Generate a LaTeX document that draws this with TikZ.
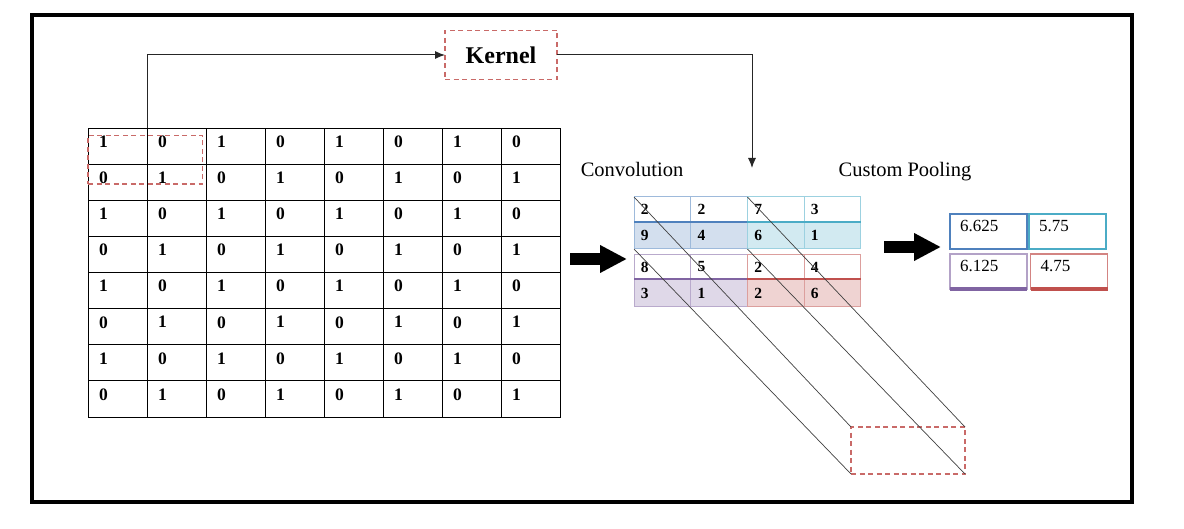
\documentclass[tikz,border=0pt]{standalone}
\usepackage{fontspec}
\setmainfont{Liberation Serif}
\usetikzlibrary{arrows.meta,positioning,calc}

\definecolor{kred}{HTML}{C0504D}
\definecolor{qblue}{HTML}{4F81BD}
\definecolor{qcyan}{HTML}{4BACC6}
\definecolor{qpurple}{HTML}{8064A2}
\definecolor{qred}{HTML}{C0504D}

\begin{document}
\begin{tikzpicture}[x=1pt,y=-1pt,
		cell/.style={
			draw, line width=0.9pt, anchor=north west, outer sep=0pt, inner sep=0pt,
			minimum width=59pt, minimum height=36.125pt, text width=37pt, align=left,
			text depth=9pt, font=\bfseries\fontsize{17.5}{17.5}\selectfont
		},
		dashbox/.style={
			draw=kred!85, line width=1.4pt, dash pattern=on 5pt off 3.5pt, outer sep=0pt
		},
		kernel/.style={
			dashbox, minimum width=112pt, minimum height=49pt,
			font=\bfseries\fontsize{24}{24}\selectfont
		},
		convcell/.style={
			anchor=north west, outer sep=0pt, inner sep=0pt, line width=1pt,
			minimum width=56.7pt, text width=43pt, align=left,
			font=\bfseries\fontsize{15.5}{15.5}\selectfont
		},
		convtop/.style={convcell, minimum height=25pt},
		convbot/.style={convcell, minimum height=27pt},
		poolbox/.style={
			draw, line width=1.2pt, anchor=north west, outer sep=0pt, inner sep=0pt,
			minimum width=77pt, minimum height=35pt, text width=57pt, align=left,
			text depth=11pt, font=\fontsize{17}{17}\selectfont
		},
		title/.style={anchor=base, inner sep=0pt, font=\fontsize{20.5}{20.5}\selectfont},
		conn/.style={line width=1pt, black!85},
		proj/.style={line width=0.7pt, black!75},
		bigarrow/.style={line width=12pt, -{Triangle[width=26pt,length=27pt]}},
		>={Latex[length=10pt,width=8pt]},
		]
		\useasboundingbox (0,0) rectangle (1184,529);
		\draw[line width=4pt] (31.5,15) rectangle (1132,501.5);
		
		% input matrix
		\foreach \r in {1,...,8}{
			\foreach \c in {1,...,8}{
				\pgfmathtruncatemacro{\v}{1-mod(\r+\c,2)}
				\node[cell] (g-\r-\c) at ({88+59*(\c-1)},{128+36.125*(\r-1)}) {\v};
			}
		}
		\node[dashbox, anchor=north west, minimum width=114.5pt, minimum height=48.5pt] (win) at (88,135.5) {};
		
		% kernel
		\node[kernel] (kernel) at (501,55) {Kernel};
		\coordinate (kdrop) at (752,168);
		\draw[conn,->] (g-1-2.north west) |- (kernel.west);
		\draw[conn,->] (kernel.east) -| (kdrop);
		
		% labels
		\node[title] (convlbl) at (632,177) {Convolution};
		\node[title] (poollbl) at (905,177) {Custom Pooling};
		
		% convolution output
		\foreach \qx/\qy/\col/\a/\b/\c/\d [count=\q] in
			{634/197/qblue/2/2/9/4, 747.4/197/qcyan/7/3/6/1,
			 634/254.5/qpurple/8/5/3/1, 747.4/254.5/qred/2/4/2/6}{
			\node[convtop, draw=\col!55] (cv\q-1) at (\qx,\qy) {\a};
			\node[convtop, draw=\col!55] (cv\q-2) at (\qx+56.7,\qy) {\b};
			\node[convbot, draw=\col!55, fill=\col!25] (cv\q-3) at (\qx,\qy+25) {\c};
			\node[convbot, draw=\col!55, fill=\col!25] (cv\q-4) at (\qx+56.7,\qy+25) {\d};
			\draw[\col, line width=2pt] (cv\q-3.north west) -- (cv\q-4.north east);
		}
		
		% receptive field
		\node[dashbox, anchor=north west, minimum width=114pt, minimum height=47pt] (rf) at (851,427) {};
		\draw[proj] (cv1-1.north west) -- (rf.north west);
		\draw[proj] (cv1-3.south west) -- (rf.south west);
		\draw[proj] (cv2-1.north west) -- (rf.north east);
		\draw[proj] (cv2-3.south west) -- (rf.south east);
		
		% pooling output
		\node[poolbox, draw=qblue] (p1) at (950,214) {6.625};
		\node[poolbox, draw=qcyan] (p2) at (1029,214) {5.75};
		\node[poolbox, draw=qpurple!60] (p3) at (950,254) {6.125};
		\node[poolbox, draw=qred!70] (p4) at (1030.5,254) {4.75};
		\draw[qblue, line width=2pt] (p1.south west) -- (p1.south east);
		\draw[qpurple, line width=3.5pt] (p3.south west) -- (p3.south east);
		\draw[qred, line width=3.5pt] (p4.south west) -- (p4.south east);
		
		% block arrows
		\coordinate (a1s) at (570,259);
		\coordinate (a1e) at (627,259);
		\coordinate (a2s) at (884,247);
		\coordinate (a2e) at (941,247);
		\draw[bigarrow] (a1s) -- (a1e);
		\draw[bigarrow] (a2s) -- (a2e);
		
	\end{tikzpicture}
\end{document}
